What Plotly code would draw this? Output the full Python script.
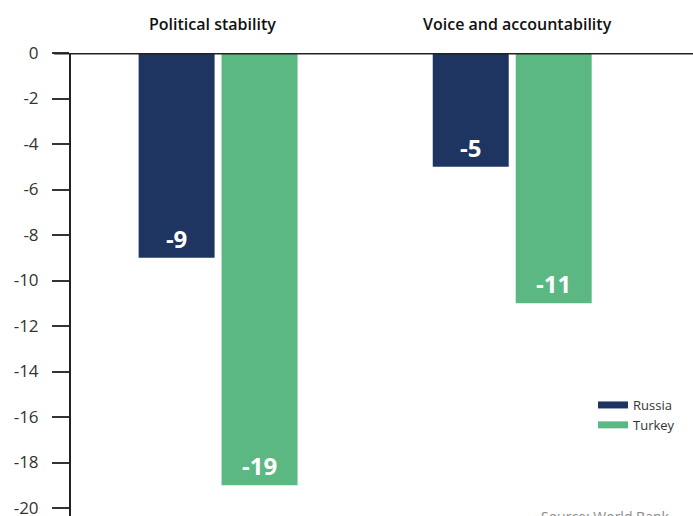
import plotly.graph_objects as go

# Governance indicators (change), by country
categories = ["Political stability", "Voice and accountability"]
russia = [-9, -5]
turkey = [-19, -11]
y_ticks = [0, -2, -4, -6, -8, -10, -12, -14, -16, -18, -20]

NAVY = "#1f3561"
GREEN = "#5cb883"
AXIS = "#222222"
FONT = "Open Sans"

x_pos = list(range(len(categories)))

fig = go.Figure()
for name, vals, color in [("Russia", russia, NAVY), ("Turkey", turkey, GREEN)]:
    fig.add_trace(go.Bar(
        x=x_pos, y=vals, name=name, marker=dict(color=color, line=dict(width=0)),
        text=[str(v) for v in vals], textposition="inside", insidetextanchor="end",
        textfont=dict(family=FONT, size=24, color="white", weight=700),
        showlegend=False, cliponaxis=False,
    ))
    # legend entry drawn as a thick bar swatch
    fig.add_trace(go.Scatter(
        x=[None], y=[None], mode="lines", name=name,
        line=dict(color=color, width=7), showlegend=True,
    ))

# category headings above each group
for i, (cat, dx) in enumerate(zip(categories, [-6, 5])):
    fig.add_annotation(
        x=i, y=1, xref="x", yref="paper", yanchor="bottom", yshift=16, xshift=dx,
        text=cat, showarrow=False,
        font=dict(family=FONT, size=16, color="#111111", weight=600),
    )

# heavy baseline at zero, running through the 0 tick
fig.add_shape(type="line", xref="paper", yref="y", x0=-17 / 622, x1=1, y0=0, y1=0,
              line=dict(color=AXIS, width=3), layer="above")

fig.add_annotation(
    x=(539 - 71) / 622, y=(516 - 505) / 463, xref="paper", yref="paper",
    xanchor="left", yanchor="top", text="Source: World Bank", showarrow=False,
    font=dict(family=FONT, size=14, color="#8a8a8a"),
)

fig.update_layout(
    width=693, height=516,
    margin=dict(l=71, r=0, t=53, b=0),
    paper_bgcolor="white", plot_bgcolor="white",
    barmode="group", bargap=0.436, bargroupgap=0.084,
    font=dict(family=FONT, color="#333333"),
    legend=dict(
        x=(593 - 71) / 622, y=(516 - 390) / 463,
        xref="paper", yref="paper", xanchor="left", yanchor="top",
        font=dict(family=FONT, size=13, color="#333333"),
        bgcolor="rgba(0,0,0,0)", itemwidth=30, tracegroupgap=0,
    ),
    xaxis=dict(
        range=[-0.5, (693 - 70.25) / 294.5 - 0.5], showticklabels=False,
        showgrid=False, zeroline=False, showline=False, ticks="",
        automargin=False,
    ),
    yaxis=dict(
        range=[-20.35, 0], tickvals=y_ticks, ticktext=[str(v) for v in y_ticks],
        showgrid=False, zeroline=False, showline=True, linecolor=AXIS, linewidth=2,
        ticks="outside", ticklen=17, tickwidth=1.5, tickcolor="#333333",
        ticklabelstandoff=10, ticklabeloverflow="allow", automargin=False,
        tickfont=dict(family=FONT, size=17, color="#333333"),
    ),
)

fig.write_html("out.html")
